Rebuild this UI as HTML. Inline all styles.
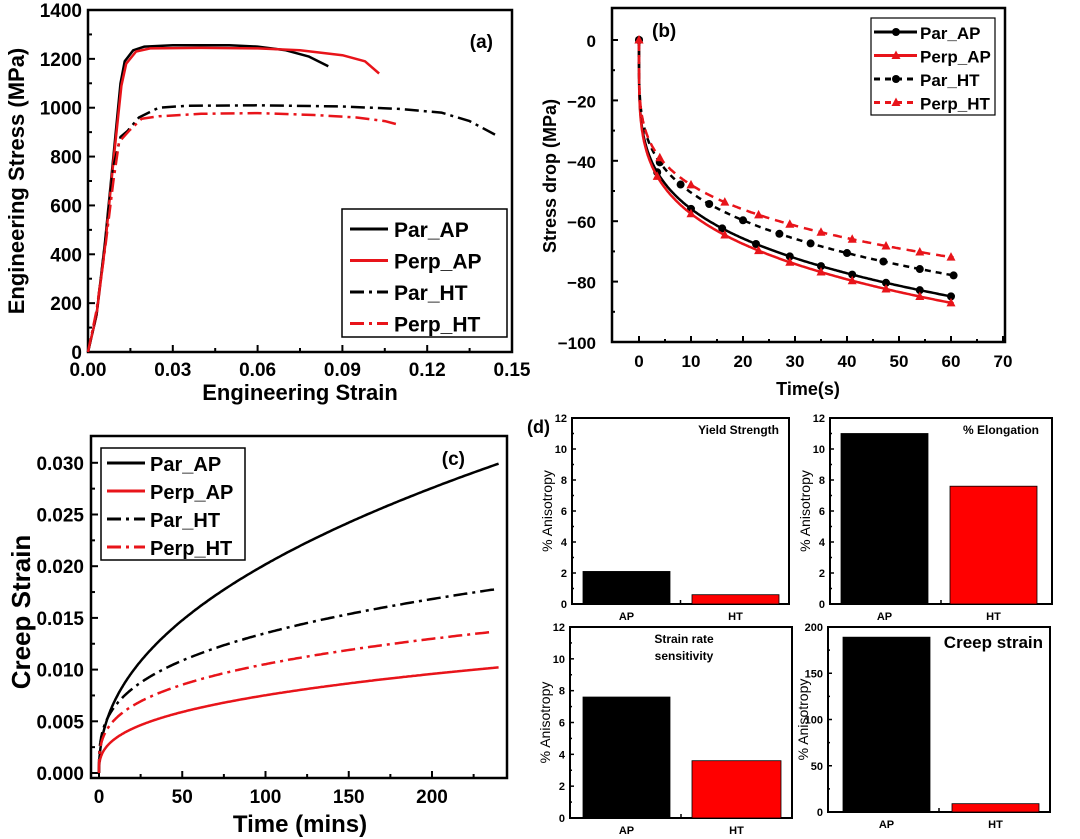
<!DOCTYPE html>
<html><head><meta charset="utf-8"><style>
html,body{margin:0;padding:0;background:#fff}
svg{display:block}
text{font-family:"Liberation Sans",Arial,sans-serif;font-weight:bold;fill:#000}
</style></head><body>
<svg id="s" width="1080" height="839" viewBox="0 0 1080 839" xmlns="http://www.w3.org/2000/svg"></svg>
<script>
const S=document.getElementById('s');let h='';
const R='#e8141a';
function path(pts,col,w,dash){let d='M'+pts.map(p=>p[0].toFixed(1)+','+p[1].toFixed(1)).join('L');h+=`<path d="${d}" fill="none" stroke="${col}" stroke-width="${w}" ${dash?`stroke-dasharray="${dash}"`:''} stroke-linejoin="round"/>`;}
function txt(x,y,t,sz,anc,extra){h+=`<text x="${x}" y="${y}" font-size="${sz}" text-anchor="${anc||'start'}" ${extra||''}>${t}</text>`;}
function rect(x,y,w,ht,sw){h+=`<rect x="${x}" y="${y}" width="${w}" height="${ht}" fill="none" stroke="#000" stroke-width="${sw}"/>`;}
function line(x1,y1,x2,y2,c,w,dash){h+=`<line x1="${x1}" y1="${y1}" x2="${x2}" y2="${y2}" stroke="${c}" stroke-width="${w}" ${dash?`stroke-dasharray="${dash}"`:''}/>`;}
function interp(pts,n){let out=[];for(let i=0;i<pts.length-1;i++){for(let k=0;k<n;k++){let t=k/n;out.push([pts[i][0]+(pts[i+1][0]-pts[i][0])*t,pts[i][1]+(pts[i+1][1]-pts[i][1])*t]);}}out.push(pts[pts.length-1]);return out;}
const DD='14 5 3 5';

// ===== Panel a =====
{const L=88,Rr=512,T=10,B=352;const X=s=>L+s/0.15*(Rr-L),Y=v=>B-v/1400*(B-T);
rect(L,T,Rr-L,B-T,2.5);
for(let v=0;v<=1400;v+=100){let y=Y(v);line(L,y,L+(v%200?4:7),y,'#000',2);if(v%200==0)txt(L-6,y+7,v,19,'end');}
for(let i=0;i<=10;i++){let s=i*0.015,x=X(s);line(x,B,x,B-(i%2?4:7),'#000',2);if(i%2==0)txt(x,B+24,(s).toFixed(2),19,'middle');}
txt(300,400,'Engineering Strain',22,'middle');
txt(0,0,'Engineering Stress (MPa)',22,'middle','transform="translate(24,181) rotate(-90)"');
txt(493,48,'(a)',19,'end');
const m=p=>p.map(q=>[X(q[0]),Y(q[1])]);
path(m([[0,0],[0.003,150],[0.006,450],[0.009,800],[0.0115,1100],[0.013,1190],[0.016,1235],[0.02,1250],[0.03,1256],[0.05,1256],[0.06,1250],[0.07,1235],[0.078,1210],[0.085,1170]]),'#000',2.5);
path(m([[0,0],[0.003,150],[0.006,430],[0.009,780],[0.0118,1090],[0.0135,1180],[0.017,1230],[0.022,1243],[0.04,1245],[0.06,1243],[0.075,1235],[0.09,1215],[0.098,1190],[0.103,1140]]),R,2.5);
path(m([[0,0],[0.003,160],[0.006,440],[0.009,760],[0.0115,880],[0.014,905],[0.018,960],[0.025,1000],[0.035,1008],[0.06,1010],[0.09,1005],[0.11,995],[0.125,980],[0.135,945],[0.144,890]]),'#000',2.5,DD);
path(m([[0,0],[0.003,170],[0.006,420],[0.009,700],[0.011,860],[0.0145,905],[0.019,955],[0.025,965],[0.04,975],[0.06,978],[0.08,970],[0.095,960],[0.105,945],[0.11,930]]),R,2.5,DD);
rect(342,209,165,128,1.5);
const lg=[['Par_AP','#000',''],['Perp_AP',R,''],['Par_HT','#000',DD],['Perp_HT',R,DD]];
lg.forEach((g,i)=>{let y=229+i*31.5;line(350,y,388,y,g[1],3,g[2]);txt(394,y+8,g[0],21);});
}

// ===== Panel b =====
{const L=612,Rr=1005,T=8,B=342;const X=t=>639+t*(1003-639)/70,Y=v=>40-v/100*(B-40)*-1*-1;
const Yb=v=>40+(-v)*(B-40)/100;
rect(L,T,Rr-L,B-T,2.5);
for(let v=0;v>=-100;v-=10){let y=Yb(v);line(L,y,L+(v%20?3:6),y,'#000',2);if(v%20==0)txt(L-16,y+7,v==0?'0':'−'+(-v),17,'end');}
for(let t=0;t<=70;t+=5){let x=X(t);line(x,B,x,B-(t%10?3:6),'#000',2);if(t%10==0)txt(x,B+25,t,17,'middle');}
txt(808,395,'Time(s)',18,'middle');
txt(0,0,'Stress drop (MPa)',18,'middle','transform="translate(556,176) rotate(-90)"');
txt(652,37,'(b)',19,'start');
const series=[
 [32.7,0.233,'#000','',0,[0,3.5,10,16,22.5,29,35,41,47.5,54,60]],
 [33.8,0.231,R,'',1,[0,3.5,10,16.5,23,29,35,41,47.5,54,60]],
 [29,0.241,'#000','6 5',0,[0,4,8,13.5,20,27,33,40,47,54,60.5]],
 [28.5,0.226,R,'9 6',1,[0,4,10,16.5,23,29,35,41,47.5,54,60]]];
series.forEach(s=>{let pts=[];for(let i=0;i<=300;i++){let t=60.5*Math.pow(i/300,2);pts.push([X(t),Yb(-s[0]*Math.pow(t,s[1]))]);}
 path(pts,s[2],2.5,s[3]);
 s[5].forEach(t=>{let x=X(t),y=Yb(-s[0]*Math.pow(t,s[1]));if(s[4])h+=`<polygon points="${x},${y-5} ${x-4.5},${y+3.5} ${x+4.5},${y+3.5}" fill="${s[2]}"/>`;else h+=`<circle cx="${x}" cy="${y}" r="4" fill="${s[2]}"/>`;});});
rect(871,18,124,97,1.2);
const lb=[['Par_AP','#000','',0],['Perp_AP',R,'',1],['Par_HT','#000','6 5',0],['Perp_HT',R,'6 5',1]];
lb.forEach((g,i)=>{let y=32+i*23.5;line(874,y,917,y,g[1],3,g[2]);let x=896;if(g[3])h+=`<polygon points="${x},${y-5} ${x-4.5},${y+3.5} ${x+4.5},${y+3.5}" fill="${g[1]}"/>`;else h+=`<circle cx="${x}" cy="${y}" r="4" fill="${g[1]}"/>`;txt(920,y+7,g[0],17);});
}

// ===== Panel c =====
{const L=91,Rr=507,T=436,B=778;const X=t=>99+t*(432-99)/200,Y=v=>773-v/0.005*51.7;
rect(L,T,Rr-L,B-T,2.5);
for(let i=0;i<=12;i++){let v=i*0.0025,y=Y(v);line(L,y,L+(i%2?4:7),y,'#000',2);if(i%2==0)txt(L-7,y+7,v.toFixed(3),19,'end');}
for(let t=0;t<=240;t+=25){let x=X(t);line(x,B,x,B-(t%50?4:7),'#000',2);if(t%50==0)txt(x,B+25,t,19,'middle');}
txt(300,832,'Time (mins)',24,'middle');
txt(0,0,'Creep Strain',26,'middle','transform="translate(30,612) rotate(-90)"');
txt(465,465,'(c)',19,'end');
const cs=[[0.00254,0.45,'#000','',240],[0.0015,0.35,R,'',240],[0.00317,0.315,'#000',DD,240],[0.00262,0.302,R,DD,235]];
cs.forEach(s=>{let pts=[[X(0),Y(0)]];for(let i=1;i<=300;i++){let t=s[4]*Math.pow(i/300,2);pts.push([X(t),Y(s[0]*Math.pow(t,s[1]))]);}path(pts,s[2],2.5,s[3]);});
rect(101,448,144,112,1.5);
lg=[['Par_AP','#000',''],['Perp_AP',R,''],['Par_HT','#000',DD],['Perp_HT',R,DD]];
lg.forEach((g,i)=>{let y=463+i*28;line(107,y,145,y,g[1],3,g[2]);txt(150,y+8,g[0],20);});
}

// ===== Panel d =====
txt(527,433,'(d)',18,'start');
function bar(L,Rr,T,B,max,step,minor,bars,title){const Y=v=>B-v/max*(B-T);
 rect(L,T,Rr-L,B-T,2);
 bars.forEach(b=>h+=`<rect x="${b[0]}" y="${Y(b[2])}" width="${b[1]-b[0]}" height="${B-Y(b[2])}" fill="${b[3]}" stroke="#000" stroke-width="0.8"/>`);
 for(let v=0;v<=max;v+=minor){let y=Y(v);line(L,y,L+(v%step?2:4),y,'#000',1.5);if(v%step==0)txt(L-5,y+4,v,11,'end');}
 let mid=(L+Rr)/2;line(mid,B,mid,B-4,'#000',1.5);
 txt((bars[0][0]+bars[0][1])/2,B+16,'AP',11,'middle');txt((bars[1][0]+bars[1][1])/2,B+16,'HT',11,'middle');
 txt(0,0,'% Anisotropy',14,'middle',`transform="translate(${L-20},${(T+B)/2}) rotate(-90)" style="font-weight:normal"`);
 title();}
bar(572,789,418,604,12,2,1,[[583,670,2.1,'#000'],[692,779,0.6,'#f00']],()=>txt(779,434,'Yield Strength',12,'end'));
bar(830,1052,418,604,12,2,1,[[841,928,11,'#000'],[950,1037,7.6,'#f00']],()=>txt(1039,434,'% Elongation',12,'end'));
bar(570,792,627,818,12,2,1,[[583,670,7.6,'#000'],[692,781,3.6,'#f00']],()=>{txt(684,643,'Strain rate',12,'middle');txt(684,660,'sensitivity',12,'middle');});
bar(828,1050,627,812,200,50,25,[[843,930,189,'#000'],[952,1039,9,'#f00']],()=>txt(1043,648,'Creep strain',17,'end'));
S.innerHTML=h;
</script>
</body></html>
